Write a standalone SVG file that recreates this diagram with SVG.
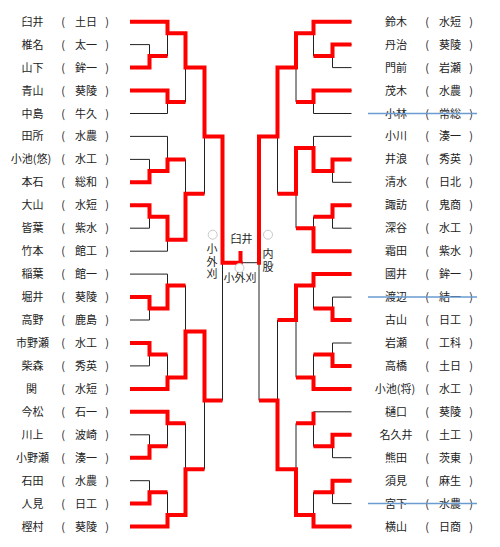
<svg xmlns="http://www.w3.org/2000/svg" width="500" height="547" viewBox="0 0 500 547">
<style>
text{font-family:"Noto Sans CJK JP","Noto Sans",sans-serif;font-size:11px;fill:#222;text-anchor:middle}
.v{writing-mode:vertical-rl;text-anchor:start}
.blk{fill:none;stroke:#222;stroke-width:1}
.red{fill:none;stroke:#ff0000;stroke-width:4;stroke-linejoin:miter;stroke-linecap:butt}
.x{stroke:#6a9bd1;stroke-width:1.5}
.c{fill:#fff;stroke:#c8c8c8;stroke-width:1}
</style>
<rect width="500" height="547" fill="#fff"/>
<g id="connectors">
<path class="blk" d="M130,21.7H167.5M130,44.6H149.5M130,67.6H149.5M130,90.5H167.5M130,113.5H167.5M130,136.4H167.5M130,159.4H149.5M130,182.3H149.5M130,205.3H149.5M130,228.2H149.5M130,251.2H167.5M130,274.1H167.5M130,297.1H149.5M130,320H149.5M130,343H149.5M130,365.9H149.5M130,388.9H167.5M130,411.8H167.5M130,434.8H149.5M130,457.7H149.5M130,480.7H149.5M130,503.6H149.5M130,526.6H167.5
M149.5,44.6V67.6M149.5,159.4V182.3M149.5,205.3V228.2M149.5,297.1V320M149.5,343V365.9M149.5,434.8V457.7M149.5,480.7V503.6
M149.5,56.1H167.5M149.5,170.9H167.5M149.5,216.8H167.5M149.5,308.6H167.5M149.5,354.5H167.5M149.5,446.3H167.5M149.5,492.2H167.5
M167.5,21.7V56.1M167.5,90.5V113.5M167.5,136.4V170.9M167.5,216.8V251.2M167.5,274.1V308.6M167.5,354.5V388.9M167.5,411.8V446.3M167.5,492.2V526.6
M167.5,33.2H185.5M167.5,102H185.5M167.5,159.4H185.5M167.5,239.7H185.5M167.5,285.6H185.5M167.5,377.4H185.5M167.5,423.3H185.5M167.5,515.1H185.5
M185.5,33.2V102M185.5,159.4V239.7M185.5,285.6V377.4M185.5,423.3V515.1
M185.5,67.6H204.5M185.5,193.8H204.5M185.5,331.5H204.5M185.5,469.2H204.5
M204.5,67.6V193.8M204.5,331.5V469.2
M204.5,136.4H222.5M204.5,400.4H222.5
M222.5,136.4V400.4
M222.5,262.7H259"/>
<path class="blk" d="M351.5,21.7H313.5M351.5,44.6H332.5M351.5,67.6H332.5M351.5,90.5H313.5M351.5,113.5H313.5M351.5,136.4H313.5M351.5,159.4H332.5M351.5,182.3H332.5M351.5,205.3H332.5M351.5,228.2H332.5M351.5,251.2H313.5M351.5,274.1H313.5M351.5,297.1H332.5M351.5,320H332.5M351.5,343H332.5M351.5,365.9H332.5M351.5,388.9H313.5M351.5,411.8H313.5M351.5,434.8H332.5M351.5,457.7H332.5M351.5,480.7H332.5M351.5,503.6H332.5M351.5,526.6H313.5
M332.5,44.6V67.6M332.5,159.4V182.3M332.5,205.3V228.2M332.5,297.1V320M332.5,343V365.9M332.5,434.8V457.7M332.5,480.7V503.6
M332.5,56.1H313.5M332.5,170.9H313.5M332.5,216.8H313.5M332.5,308.6H313.5M332.5,354.5H313.5M332.5,446.3H313.5M332.5,492.2H313.5
M313.5,21.7V56.1M313.5,90.5V113.5M313.5,136.4V170.9M313.5,216.8V251.2M313.5,274.1V308.6M313.5,354.5V388.9M313.5,411.8V446.3M313.5,492.2V526.6
M313.5,33.2H296M313.5,102H296M313.5,147.9H296M313.5,228.2H296M313.5,285.6H296M313.5,377.4H296M313.5,423.3H296M313.5,515.1H296
M296,33.2V102M296,147.9V228.2M296,285.6V377.4M296,423.3V515.1
M296,67.6H277.5M296,193.8H277.5M296,320H277.5M296,469.2H277.5
M277.5,67.6V193.8M277.5,320V469.2
M277.5,136.4H259M277.5,400.4H259
M259,136.4V400.4"/>
<path class="red" d="M130,21.7H167.5V33.2H185.5V67.6H204.5V136.4H222.5V262.7H242.5"/>
<path class="red" d="M240.5,264.7V251"/>
<path class="red" d="M130,67.6H149.5V56.1H167.5"/>
<path class="red" d="M130,90.5H167.5V102H185.5"/>
<path class="red" d="M130,182.3H149.5V170.9H167.5V159.4H185.5"/>
<path class="red" d="M130,205.3H149.5V216.8H167.5V239.7H185.5V193.8H204.5"/>
<path class="red" d="M130,297.1H149.5V308.6H167.5V285.6H185.5"/>
<path class="red" d="M130,343H149.5V354.5H167.5"/>
<path class="red" d="M130,388.9H167.5V377.4H185.5V331.5H204.5V400.4H222.5"/>
<path class="red" d="M130,411.8H167.5V423.3H185.5"/>
<path class="red" d="M130,457.7H149.5V446.3H167.5"/>
<path class="red" d="M130,503.6H149.5V492.2H167.5"/>
<path class="red" d="M130,526.6H167.5V515.1H185.5V469.2H204.5"/>
<path class="red" d="M351.5,21.7H313.5V33.2H296V67.6H277.5V136.4H259V264.7"/>
<path class="red" d="M351.5,44.6H332.5V56.1H313.5"/>
<path class="red" d="M351.5,90.5H313.5V102H296"/>
<path class="red" d="M351.5,159.4H332.5V170.9H313.5V147.9H296V193.8H277.5"/>
<path class="red" d="M351.5,205.3H332.5V216.8H313.5"/>
<path class="red" d="M351.5,251.2H313.5V228.2H296"/>
<path class="red" d="M351.5,274.1H313.5V285.6H296V320H277.5"/>
<path class="red" d="M351.5,320H332.5V308.6H313.5"/>
<path class="red" d="M351.5,365.9H332.5V354.5H313.5"/>
<path class="red" d="M351.5,388.9H313.5V377.4H296"/>
<path class="red" d="M313.5,411.8V423.3H296"/>
<path class="red" d="M351.5,434.8H332.5V446.3H313.5"/>
<path class="red" d="M351.5,480.7H332.5V492.2H313.5"/>
<path class="red" d="M351.5,526.6H313.5V515.1H296V469.2H277.5V400.4H259"/>
</g>
<g id="L01"><text x="32.5" y="25.7">臼井</text><text x="63" y="25.7">(</text><text x="86" y="25.7">土日</text><text x="107" y="25.7">)</text></g>
<g id="L02"><text x="32.5" y="48.6">椎名</text><text x="63" y="48.6">(</text><text x="86" y="48.6">太一</text><text x="107" y="48.6">)</text></g>
<g id="L03"><text x="32.5" y="71.6">山下</text><text x="63" y="71.6">(</text><text x="86" y="71.6">鉾一</text><text x="107" y="71.6">)</text></g>
<g id="L04"><text x="32.5" y="94.5">青山</text><text x="63" y="94.5">(</text><text x="86" y="94.5">葵陵</text><text x="107" y="94.5">)</text></g>
<g id="L05"><text x="32.5" y="117.5">中島</text><text x="63" y="117.5">(</text><text x="86" y="117.5">牛久</text><text x="107" y="117.5">)</text></g>
<g id="L06"><text x="32.5" y="140.4">田所</text><text x="63" y="140.4">(</text><text x="86" y="140.4">水農</text><text x="107" y="140.4">)</text></g>
<g id="L07"><text x="31" y="163.4">小池(悠)</text><text x="63" y="163.4">(</text><text x="86" y="163.4">水工</text><text x="107" y="163.4">)</text></g>
<g id="L08"><text x="32.5" y="186.3">本石</text><text x="63" y="186.3">(</text><text x="86" y="186.3">総和</text><text x="107" y="186.3">)</text></g>
<g id="L09"><text x="32.5" y="209.3">大山</text><text x="63" y="209.3">(</text><text x="86" y="209.3">水短</text><text x="107" y="209.3">)</text></g>
<g id="L10"><text x="32.5" y="232.2">皆葉</text><text x="63" y="232.2">(</text><text x="86" y="232.2">紫水</text><text x="107" y="232.2">)</text></g>
<g id="L11"><text x="32.5" y="255.2">竹本</text><text x="63" y="255.2">(</text><text x="86" y="255.2">館工</text><text x="107" y="255.2">)</text></g>
<g id="L12"><text x="32.5" y="278.1">稲葉</text><text x="63" y="278.1">(</text><text x="86" y="278.1">館一</text><text x="107" y="278.1">)</text></g>
<g id="L13"><text x="32.5" y="301.1">堀井</text><text x="63" y="301.1">(</text><text x="86" y="301.1">葵陵</text><text x="107" y="301.1">)</text></g>
<g id="L14"><text x="32.5" y="324">高野</text><text x="63" y="324">(</text><text x="86" y="324">鹿島</text><text x="107" y="324">)</text></g>
<g id="L15"><text x="32.5" y="347">市野瀬</text><text x="63" y="347">(</text><text x="86" y="347">水工</text><text x="107" y="347">)</text></g>
<g id="L16"><text x="32.5" y="369.9">柴森</text><text x="63" y="369.9">(</text><text x="86" y="369.9">秀英</text><text x="107" y="369.9">)</text></g>
<g id="L17"><text x="31.5" y="392.9">関</text><text x="63" y="392.9">(</text><text x="86" y="392.9">水短</text><text x="107" y="392.9">)</text></g>
<g id="L18"><text x="32.5" y="415.8">今松</text><text x="63" y="415.8">(</text><text x="86" y="415.8">石一</text><text x="107" y="415.8">)</text></g>
<g id="L19"><text x="32.5" y="438.8">川上</text><text x="63" y="438.8">(</text><text x="86" y="438.8">波崎</text><text x="107" y="438.8">)</text></g>
<g id="L20"><text x="32.5" y="461.7">小野瀬</text><text x="63" y="461.7">(</text><text x="86" y="461.7">湊一</text><text x="107" y="461.7">)</text></g>
<g id="L21"><text x="32.5" y="484.7">石田</text><text x="63" y="484.7">(</text><text x="86" y="484.7">水農</text><text x="107" y="484.7">)</text></g>
<g id="L22"><text x="32.5" y="507.6">人見</text><text x="63" y="507.6">(</text><text x="86" y="507.6">日工</text><text x="107" y="507.6">)</text></g>
<g id="L23"><text x="32.5" y="530.6">樫村</text><text x="63" y="530.6">(</text><text x="86" y="530.6">葵陵</text><text x="107" y="530.6">)</text></g>
<g id="R01"><text x="396" y="25.7">鈴木</text><text x="427" y="25.7">(</text><text x="450" y="25.7">水短</text><text x="471" y="25.7">)</text></g>
<g id="R02"><text x="396" y="48.6">丹治</text><text x="427" y="48.6">(</text><text x="450" y="48.6">葵陵</text><text x="471" y="48.6">)</text></g>
<g id="R03"><text x="396" y="71.6">門前</text><text x="427" y="71.6">(</text><text x="450" y="71.6">岩瀬</text><text x="471" y="71.6">)</text></g>
<g id="R04"><text x="396" y="94.5">茂木</text><text x="427" y="94.5">(</text><text x="450" y="94.5">水農</text><text x="471" y="94.5">)</text></g>
<g id="R05"><text x="396" y="117.5">小林</text><text x="427" y="117.5">(</text><text x="450" y="117.5">常総</text><text x="471" y="117.5">)</text><line class="x" x1="368" y1="113.5" x2="477" y2="113.5"/></g>
<g id="R06"><text x="396" y="140.4">小川</text><text x="427" y="140.4">(</text><text x="450" y="140.4">湊一</text><text x="471" y="140.4">)</text></g>
<g id="R07"><text x="396" y="163.4">井浪</text><text x="427" y="163.4">(</text><text x="450" y="163.4">秀英</text><text x="471" y="163.4">)</text></g>
<g id="R08"><text x="396" y="186.3">清水</text><text x="427" y="186.3">(</text><text x="450" y="186.3">日北</text><text x="471" y="186.3">)</text></g>
<g id="R09"><text x="396" y="209.3">諏訪</text><text x="427" y="209.3">(</text><text x="450" y="209.3">鬼商</text><text x="471" y="209.3">)</text></g>
<g id="R10"><text x="396" y="232.2">深谷</text><text x="427" y="232.2">(</text><text x="450" y="232.2">水工</text><text x="471" y="232.2">)</text></g>
<g id="R11"><text x="396" y="255.2">霜田</text><text x="427" y="255.2">(</text><text x="450" y="255.2">紫水</text><text x="471" y="255.2">)</text></g>
<g id="R12"><text x="396" y="278.1">國井</text><text x="427" y="278.1">(</text><text x="450" y="278.1">鉾一</text><text x="471" y="278.1">)</text></g>
<g id="R13"><text x="396" y="301.1">渡辺</text><text x="427" y="301.1">(</text><text x="450" y="301.1">結一</text><text x="471" y="301.1">)</text><line class="x" x1="368" y1="297.1" x2="477" y2="297.1"/></g>
<g id="R14"><text x="396" y="324">古山</text><text x="427" y="324">(</text><text x="450" y="324">日工</text><text x="471" y="324">)</text></g>
<g id="R15"><text x="396" y="347">岩瀬</text><text x="427" y="347">(</text><text x="450" y="347">工科</text><text x="471" y="347">)</text></g>
<g id="R16"><text x="396" y="369.9">高橋</text><text x="427" y="369.9">(</text><text x="450" y="369.9">土日</text><text x="471" y="369.9">)</text></g>
<g id="R17"><text x="395" y="392.9">小池(将)</text><text x="427" y="392.9">(</text><text x="450" y="392.9">水工</text><text x="471" y="392.9">)</text></g>
<g id="R18"><text x="396" y="415.8">樋口</text><text x="427" y="415.8">(</text><text x="450" y="415.8">葵陵</text><text x="471" y="415.8">)</text></g>
<g id="R19"><text x="396" y="438.8">名久井</text><text x="427" y="438.8">(</text><text x="450" y="438.8">土工</text><text x="471" y="438.8">)</text></g>
<g id="R20"><text x="396" y="461.7">熊田</text><text x="427" y="461.7">(</text><text x="450" y="461.7">茨東</text><text x="471" y="461.7">)</text></g>
<g id="R21"><text x="396" y="484.7">須見</text><text x="427" y="484.7">(</text><text x="450" y="484.7">麻生</text><text x="471" y="484.7">)</text></g>
<g id="R22"><text x="396" y="507.6">宮下</text><text x="427" y="507.6">(</text><text x="450" y="507.6">水農</text><text x="471" y="507.6">)</text><line class="x" x1="368" y1="503.6" x2="477" y2="503.6"/></g>
<g id="R23"><text x="396" y="530.6">横山</text><text x="427" y="530.6">(</text><text x="450" y="530.6">日商</text><text x="471" y="530.6">)</text></g>
<g id="final">
<circle class="c" cx="212.7" cy="234.7" r="4.5"/>
<circle class="c" cx="268" cy="234.7" r="4.5"/>
<circle class="c" cx="239.5" cy="268" r="4.5"/>
<text x="241.5" y="242.7">臼井</text>
<text class="v" x="212" y="243.5" letter-spacing="1.5">小外刈</text>
<text class="v" x="268" y="248.5" letter-spacing="2">内股</text>
<text x="240" y="281.5">小外刈</text>
</g>
</svg>
